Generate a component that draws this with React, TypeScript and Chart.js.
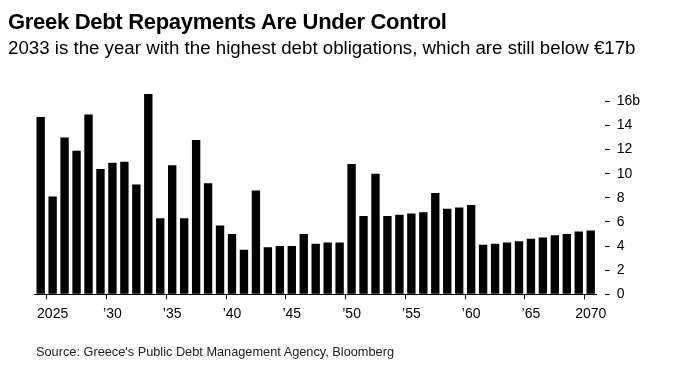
import React, { useEffect, useRef } from "react";
import { Chart, registerables } from "chart.js";

Chart.register(...registerables);

const years: number[] = [
  2024, 2025, 2026, 2027, 2028, 2029, 2030, 2031, 2032, 2033,
  2034, 2035, 2036, 2037, 2038, 2039, 2040, 2041, 2042, 2043,
  2044, 2045, 2046, 2047, 2048, 2049, 2050, 2051, 2052, 2053,
  2054, 2055, 2056, 2057, 2058, 2059, 2060, 2061, 2062, 2063,
  2064, 2065, 2066, 2067, 2068, 2069, 2070,
];

const repayments: number[] = [
  14.7, 8.1, 13.0, 11.9, 14.9, 10.4, 10.9, 11.0, 9.1, 16.6,
  6.3, 10.7, 6.3, 12.8, 9.2, 5.7, 5.0, 3.7, 8.6, 3.9,
  4.0, 4.0, 5.0, 4.2, 4.3, 4.3, 10.8, 6.5, 10.0, 6.5,
  6.6, 6.7, 6.8, 8.4, 7.1, 7.2, 7.4, 4.1, 4.2, 4.3,
  4.4, 4.6, 4.7, 4.9, 5.0, 5.2, 5.3,
];

const yTickValues: number[] = [0, 2, 4, 6, 8, 10, 12, 14, 16];

const xTickLabels: Record<number, string> = {
  2025: "2025",
  2030: "\u201930",
  2035: "\u201935",
  2040: "\u201940",
  2045: "\u201945",
  2050: "\u201950",
  2055: "\u201955",
  2060: "\u201960",
  2065: "\u201965",
  2070: "2070",
};

const FONT = "'Liberation Sans', Arial, Helvetica, sans-serif";

export default function App() {
  const canvasRef = useRef<HTMLCanvasElement | null>(null);

  useEffect(() => {
    document.body.style.margin = "0";
    const canvas = canvasRef.current;
    if (!canvas) return;
    const chart = new Chart(canvas, {
      type: "bar",
      data: {
        labels: years.map(String),
        datasets: [
          {
            data: repayments,
            backgroundColor: "#000000",
            borderWidth: 0,
            barPercentage: 0.7,
            categoryPercentage: 1,
          },
        ],
      },
      options: {
        responsive: false,
        animation: false,
        events: [],
        layout: { padding: { left: 34.7, top: 89.3, right: 0, bottom: 0 } },
        plugins: {
          legend: { display: false },
          tooltip: { enabled: false },
          title: { display: false },
        },
        scales: {
          x: {
            type: "category",
            offset: true,
            grid: {
              display: true,
              drawOnChartArea: false,
              drawTicks: true,
              tickLength: 5,
              tickColor: (ctx: any) => {
                const y = years[ctx.index];
                return xTickLabels[y] ? "#000000" : "rgba(0,0,0,0)";
              },
            },
            border: { display: true, color: "#000000", width: 1 },
            ticks: {
              autoSkip: false,
              maxRotation: 0,
              minRotation: 0,
              padding: 6,
              color: "#000000",
              font: { family: FONT, size: 14 },
              callback: (_v: any, i: number) => xTickLabels[years[i]] || "",
            },
            afterFit: (scale: any) => {
              scale.height = 76.7;
            },
          },
          y: {
            position: "right",
            min: 0,
            max: 17,
            border: { display: false },
            grid: {
              display: true,
              drawOnChartArea: false,
              drawTicks: true,
              tickLength: 13,
              tickColor: "#000000",
              tickWidth: 1,
              tickBorderDash: [5, 8],
              tickBorderDashOffset: 5,
            },
            afterBuildTicks: (axis: any) => {
              axis.ticks = yTickValues.map((v) => ({ value: v }));
            },
            ticks: {
              padding: 7,
              color: "#000000",
              font: { family: FONT, size: 14 },
              callback: (v: any) => (v === 16 ? "16b" : String(v)),
            },
            afterFit: (scale: any) => {
              scale.width = 103.3;
            },
          },
        },
      },
    });
    return () => chart.destroy();
  }, []);

  return (
    <div
      style={{
        position: "fixed",
        left: 0,
        top: 0,
        width: 700,
        height: 371,
        background: "#ffffff",
        fontFamily: FONT,
        color: "#000000",
      }}
    >
      <canvas
        ref={canvasRef}
        width={700}
        height={371}
        style={{ position: "absolute", left: 0, top: 0, width: 700, height: 371 }}
      />
      <div
        style={{
          position: "absolute",
          left: 8,
          top: 9,
          fontSize: 22,
          fontWeight: 700,
          lineHeight: "26px",
          whiteSpace: "nowrap",
          letterSpacing: -0.3,
        }}
      >
        Greek Debt Repayments Are Under Control
      </div>
      <div
        style={{
          position: "absolute",
          left: 8,
          top: 36,
          fontSize: 18.7,
          lineHeight: "23px",
          whiteSpace: "nowrap",
        }}
      >
        2033 is the year with the highest debt obligations, which are still below €17b
      </div>
      <div
        style={{
          position: "absolute",
          left: 36,
          top: 344,
          fontSize: 12.75,
          lineHeight: "16px",
          whiteSpace: "nowrap",
          color: "#222222",
        }}
      >
        Source: Greece's Public Debt Management Agency, Bloomberg
      </div>
    </div>
  );
}
